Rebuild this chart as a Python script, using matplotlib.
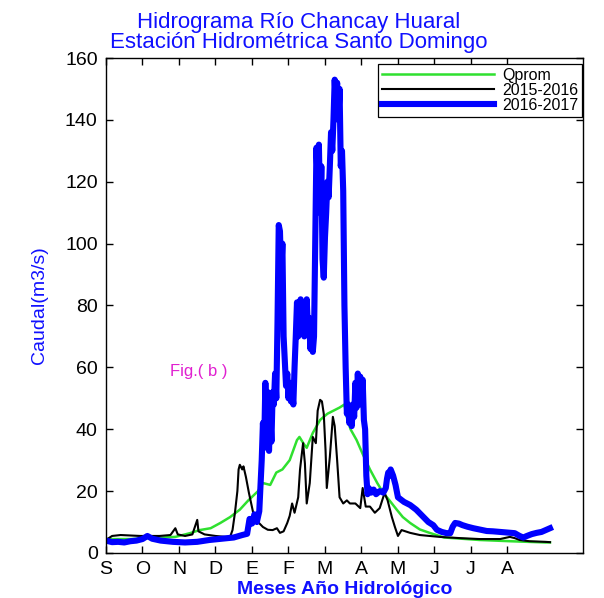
import numpy as np
import matplotlib
matplotlib.use("Agg")
from matplotlib import pyplot as plt

plt.rcParams['font.family'] = ['Liberation Sans', 'DejaVu Sans']

# month labels of the hydrological year (Sep -> Aug)
MONTHS = ['S', 'O', 'N', 'D', 'E', 'F', 'M', 'A', 'M', 'J', 'J', 'A']
MONTH_DAYS = [0, 30, 60, 90, 120, 150, 180, 210, 240, 270, 300, 330]

# Qprom (mean discharge)
qprom_day = [0, 20, 36, 57, 69, 77, 86, 94, 102, 110, 117, 121, 125, 129, 135, 140, 145, 151,
             157, 159, 163, 165, 170, 176, 182, 187, 192, 196, 198, 201, 206, 211, 217, 223,
             228, 233, 239, 244, 250, 258, 266, 278, 307, 332, 361, 365]
qprom_val = [4.5, 4.5, 4.8, 5.2, 6.4, 7.4, 8.0, 9.7, 11.6, 14.0, 17.0, 18.5, 20.0, 22.6, 22.0,
             26.0, 27.0, 30.0, 36.5, 37.5, 35.0, 34.0, 38.8, 43.0, 45.0, 46.0, 47.0, 48.0, 44.0,
             40.0, 36.5, 32.0, 27.0, 22.6, 19.4, 17.0, 14.0, 11.6, 9.7, 7.6, 6.5, 5.0, 4.2, 3.8,
             3.4, 3.4]

# 2015-2016
y1516_day = [0, 5, 12, 28, 44, 53, 57, 59, 65, 71, 75, 76, 81, 90, 98, 102, 104, 106, 108,
             109, 110, 112, 113, 115, 117.5, 121, 125, 129, 133, 137, 140.5, 143, 146, 149,
             151, 153, 155, 158, 159.5, 162, 163.5, 165, 167.5, 170, 172.5, 174, 176, 177.5,
             179, 180.5, 181.5, 184, 186.5, 188, 190, 192, 195, 198, 200.5, 205, 209, 211,
             213.5, 217, 221, 225, 229, 231.5, 235, 237.5, 240, 243, 250, 258, 274, 291, 307,
             324, 332, 336, 340, 348, 361, 365]
y1516_val = [4.2, 5.5, 5.8, 5.5, 5.5, 5.8, 8.0, 6.0, 5.5, 6.0, 10.7, 7.0, 6.0, 5.5, 5.2, 5.2,
             7.4, 13.0, 20.0, 27.0, 28.5, 27.0, 28.0, 24.6, 19.4, 13.0, 10.0, 8.4, 7.5, 7.4,
             8.0, 6.5, 7.0, 9.7, 12.0, 16.0, 13.0, 18.0, 27.0, 35.5, 29.0, 16.0, 22.6, 37.5,
             35.5, 46.0, 49.5, 49.0, 45.0, 33.0, 21.0, 31.0, 44.0, 41.0, 30.0, 18.0, 16.0,
             17.0, 16.0, 16.0, 14.5, 21.0, 15.0, 15.0, 13.0, 14.5, 19.4, 17.0, 11.6, 8.4, 5.5,
             7.4, 6.5, 5.8, 5.2, 4.8, 4.5, 4.5, 5.2, 4.8, 4.2, 3.8, 3.6, 3.5]

# 2016-2017
y1617_day = [0, 5, 10, 15, 20, 25, 30, 34, 38, 45, 55, 65, 75, 85, 95, 105, 112, 116, 118,
             120, 122, 124, 126, 128, 129, 130, 131, 132, 133, 134, 135, 136, 137, 138, 139,
             140, 141, 142, 143, 144, 145, 146, 147, 148, 149, 150, 151, 152, 153, 154, 155,
             156, 157, 158, 159, 160, 161, 162, 163, 164, 165, 166, 167, 168, 169, 170, 171,
             172, 173, 174, 175, 176, 177, 178, 179, 180, 181, 182, 183, 184, 185, 186, 187,
             188, 189, 190, 191, 192, 193, 194, 195, 196, 197, 198, 199, 200, 201, 202, 203,
             204, 205, 206, 207, 208, 209, 210, 211, 212, 213, 214, 215, 216, 218, 220, 222,
             225, 228, 230, 231, 232, 233, 234, 236, 238, 240, 245, 250, 255, 260, 265, 269,
             272, 276, 280, 283, 285, 287, 290, 293, 297, 302, 308, 313, 318, 324, 330, 336,
             340, 343, 346, 350, 354, 358, 362, 365]
y1617_val = [4.0, 3.5, 3.6, 3.4, 3.8, 4.0, 4.5, 5.5, 4.6, 4.0, 3.6, 3.4, 3.6, 4.2, 4.6, 5.0,
             5.8, 6.2, 11.0, 9.5, 12.5, 10.0, 13.5, 30.0, 42.0, 34.0, 55.0, 40.0, 52.0, 33.0,
             45.0, 36.0, 52.0, 48.0, 58.0, 50.0, 75.0, 106.0, 104.0, 90.0, 100.0, 70.0, 62.0,
             54.0, 58.0, 50.0, 55.0, 49.0, 52.0, 48.0, 60.0, 70.0, 81.0, 70.0, 78.0, 82.0,
             72.0, 80.0, 70.0, 78.0, 82.0, 72.0, 76.0, 66.0, 72.0, 65.0, 70.0, 100.0, 131.0,
             120.0, 132.0, 110.0, 125.0, 95.0, 89.0, 102.0, 110.0, 120.0, 115.0, 125.0, 136.0,
             130.0, 140.0, 153.0, 145.0, 152.0, 140.0, 150.0, 125.0, 130.0, 117.0, 80.0, 60.0,
             45.0, 48.0, 42.0, 46.0, 41.0, 48.0, 44.0, 55.0, 47.0, 58.0, 50.0, 57.0, 48.0,
             56.0, 43.0, 40.0, 25.0, 19.0, 21.0, 19.5, 20.5, 19.0, 20.0, 19.5, 21.0, 24.0,
             26.0, 25.0, 27.0, 25.0, 22.0, 18.0, 16.5, 15.5, 14.0, 12.0, 10.0, 9.0, 7.5, 6.8,
             6.4, 6.4, 8.5, 9.7, 9.5, 9.0, 8.5, 8.0, 7.5, 7.1, 7.0, 6.8, 6.6, 6.4, 5.5, 5.0,
             5.5, 6.1, 6.5, 6.8, 7.5, 8.0]

BLUE = '#1010ff'

fig = plt.figure(figsize=(6.04, 5.98), dpi=100)
ax = fig.add_axes([0.1755, 0.0753, 0.7895, 0.8277])

ax.plot(qprom_day, qprom_val, color='#2fe02f', lw=1.8, label='Qprom')
ax.plot(y1516_day, y1516_val, color='black', lw=1.5, label='2015-2016')
ax.plot(y1617_day, y1617_val, color='#0000ff', lw=4.4, label='2016-2017')

ax.set_xlim(0, 392)
ax.set_ylim(0, 160)
ax.set_xticks(MONTH_DAYS)
ax.set_xticklabels(MONTHS)
ax.set_yticks(np.arange(0, 161, 20))
ax.tick_params(direction='in', top=True, right=True, length=5, width=1,
               labelsize=14, pad=6)
for s in ax.spines.values():
    s.set_linewidth(1.0)

ax.set_xlabel('Meses Año Hidrológico', color=BLUE, fontsize=14, fontweight='bold', labelpad=2)
ax.set_ylabel('Caudal(m3/s)', color=BLUE, fontsize=14,
              family=['Liberation Sans Narrow', 'Liberation Sans'], labelpad=12)

fig.text(0.495, 0.963, 'Hidrograma Río Chancay Huaral', color=BLUE, fontsize=16,
         ha='center', va='center')
fig.text(0.495, 0.929, 'Estación Hidrométrica Santo Domingo', color=BLUE, fontsize=16,
         ha='center', va='center')

ax.text(53, 58.5, 'Fig.( b )', color='#e020d0', fontsize=12, ha='left', va='center')

leg = ax.legend(loc='upper right', bbox_to_anchor=(0.998, 0.988), borderaxespad=0,
                fancybox=False, framealpha=1, edgecolor='black', fontsize=11.5,
                handlelength=7.0, handletextpad=0.5, labelspacing=0.0,
                borderpad=0.25)
leg.get_frame().set_linewidth(0.9)

fig.savefig('out.png', dpi=100)
